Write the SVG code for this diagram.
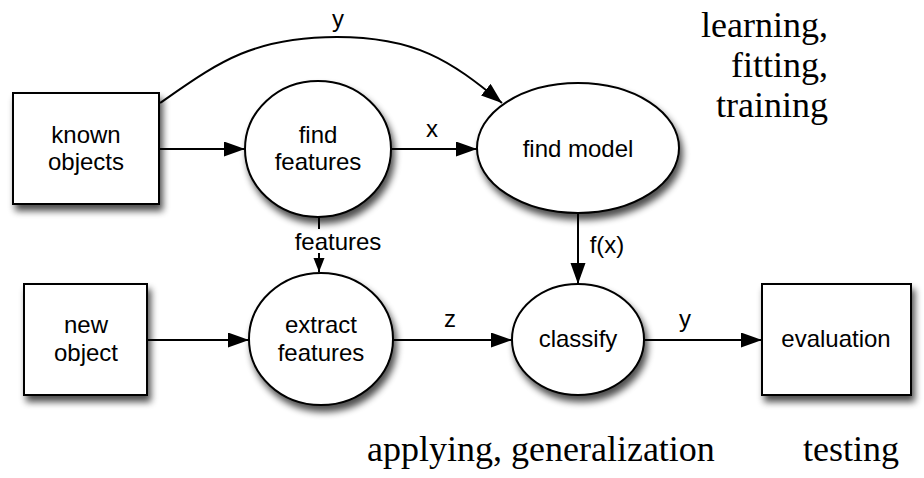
<svg xmlns="http://www.w3.org/2000/svg" width="924" height="478" viewBox="0 0 924 478">
<defs>
<style>
.node{fill:#fff;stroke:#000;stroke-width:2;filter:url(#sh)}
.lbl{font-family:"Liberation Sans",Arial,sans-serif;font-size:24px;fill:#000;text-anchor:middle}
.edge{fill:none;stroke:#000;stroke-width:2}
.big{font-family:"Liberation Serif","Times New Roman",serif;font-size:36px;fill:#000}
</style>
<filter id="sh" x="-20%" y="-20%" width="150%" height="150%">
<feGaussianBlur in="SourceAlpha" stdDeviation="3.5"/>
<feOffset dx="3" dy="6" result="b"/>
<feComponentTransfer><feFuncA type="linear" slope="0.7"/></feComponentTransfer>
<feMerge><feMergeNode/><feMergeNode in="SourceGraphic"/></feMerge>
</filter>
<marker id="ah" markerUnits="userSpaceOnUse" markerWidth="22" markerHeight="16" refX="21" refY="7.5" orient="auto">
<path d="M0,0 L21,7.5 L0,15 z" fill="#000"/>
</marker>
<marker id="ahs" markerUnits="userSpaceOnUse" markerWidth="16" markerHeight="12" refX="14" refY="5.5" orient="auto">
<path d="M0,0 L14,5.5 L0,11 z" fill="#000"/>
</marker>
</defs>
<rect width="924" height="478" fill="#fff"/>

<g id="connectors">
<path class="edge" d="M160,103 C215,65 250,37 337,37 C415,37 450,60 502,103" marker-end="url(#ah)"/>
<line class="edge" x1="159" y1="149" x2="245" y2="149" marker-end="url(#ah)"/>
<line class="edge" x1="391" y1="149" x2="477" y2="149" marker-end="url(#ah)"/>
<line class="edge" x1="319" y1="217" x2="319" y2="272" marker-end="url(#ahs)"/>
<line class="edge" x1="147" y1="340" x2="249" y2="340" marker-end="url(#ah)"/>
<line class="edge" x1="393" y1="340" x2="512" y2="340" marker-end="url(#ah)"/>
<line class="edge" x1="578" y1="213" x2="578" y2="284" marker-end="url(#ah)"/>
<line class="edge" x1="644" y1="340" x2="762" y2="340" marker-end="url(#ah)"/>
<text class="lbl" x="338" y="27">y</text>
<text class="lbl" x="432" y="137">x</text>
<rect x="290" y="229" width="96" height="24" fill="#fff"/>
<text class="lbl" x="338" y="250">features</text>
<text class="lbl" x="450" y="327">z</text>
<text class="lbl" x="607" y="253">f(x)</text>
<text class="lbl" x="685" y="327">y</text>
</g>

<g id="known-objects">
<rect class="node" x="13" y="93" width="146" height="111"/>
<text class="lbl" x="86" y="143">known</text>
<text class="lbl" x="86" y="170">objects</text>
</g>
<g id="find-features">
<ellipse class="node" cx="318" cy="149" rx="73" ry="68"/>
<text class="lbl" x="318" y="143">find</text>
<text class="lbl" x="318" y="170">features</text>
</g>
<g id="find-model">
<ellipse class="node" cx="578" cy="148" rx="101" ry="65"/>
<text class="lbl" x="578" y="157">find model</text>
</g>
<g id="new-object">
<rect class="node" x="24" y="284" width="123" height="111"/>
<text class="lbl" x="86" y="333">new</text>
<text class="lbl" x="86" y="361">object</text>
</g>
<g id="extract-features">
<ellipse class="node" cx="321" cy="339" rx="72" ry="66"/>
<text class="lbl" x="321" y="333">extract</text>
<text class="lbl" x="321" y="361">features</text>
</g>
<g id="classify">
<ellipse class="node" cx="578" cy="339.5" rx="66" ry="55.5"/>
<text class="lbl" x="578" y="347">classify</text>
</g>
<g id="evaluation">
<rect class="node" x="762" y="284" width="149" height="111"/>
<text class="lbl" x="836" y="347">evaluation</text>
</g>

<g id="annotations">
<text class="big" x="828" y="37" text-anchor="end">learning,</text>
<text class="big" x="828" y="77" text-anchor="end">fitting,</text>
<text class="big" x="828" y="117" text-anchor="end">training</text>
<text class="big" x="367" y="461">applying, generalization</text>
<text class="big" x="803" y="461">testing</text>
</g>
</svg>
